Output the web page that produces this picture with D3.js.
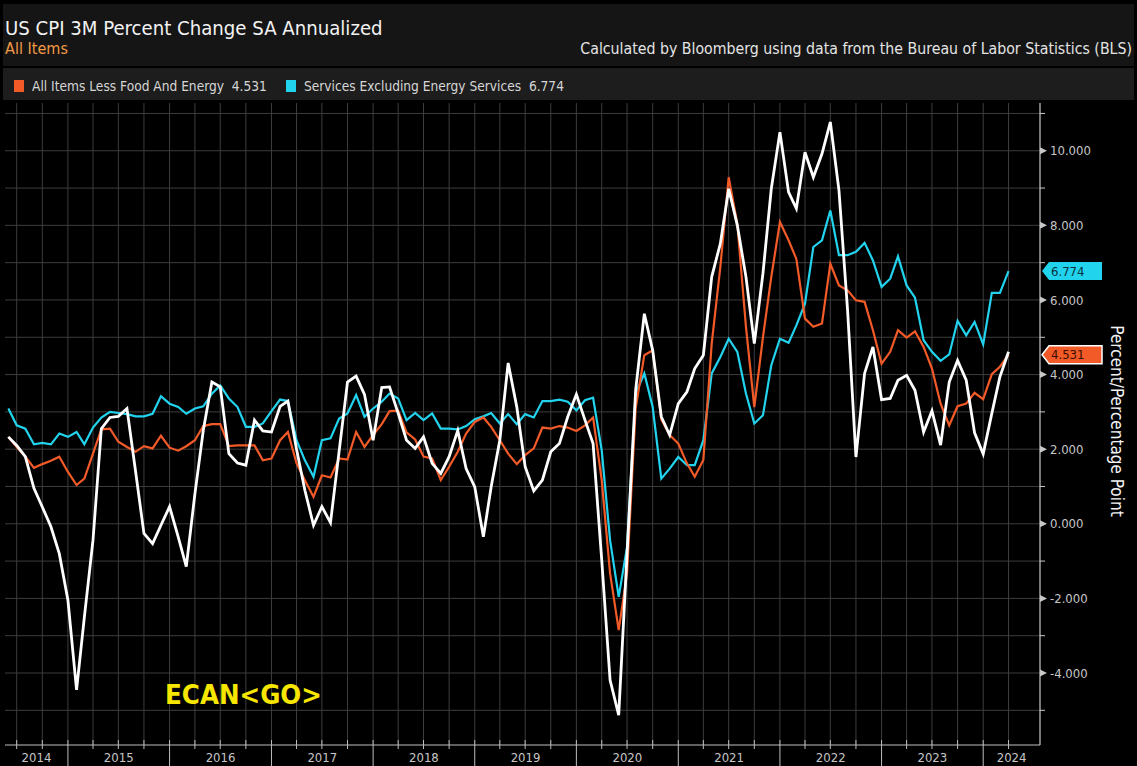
<!DOCTYPE html>
<html>
<head>
<meta charset="utf-8">
<script src="https://cdn.jsdelivr.net/npm/d3@7"></script>
<style>
  body { margin: 0; background: #000; }
  svg { display: block; }
  text { font-family: "DejaVu Sans Condensed", "DejaVu Sans", sans-serif; }
</style>
</head>
<body>
<svg id="chart" width="1137" height="766"></svg>
<script>
// monthly readings, first one is May 2014, plotted at month end
const firstMonth = new Date(2014, 4, 1);

const allItems = [
  2.33, 2.10, 1.80, 0.95, 0.45, -0.08, -0.80, -2.05,                        // 2014
  -4.45, -2.50, -0.44, 2.55, 2.85, 2.88, 3.09, 1.40, -0.26, -0.53, -0.04, 0.46, // 2015
  -0.35, -1.15, 0.80, 2.50, 3.80, 3.67, 1.88, 1.63, 1.57, 2.78, 2.49, 2.46,  // 2016
  3.15, 3.29, 2.00, 0.90, -0.04, 0.46, 0.03, 1.95, 3.80, 3.96, 3.47, 2.24,   // 2017
  3.65, 3.67, 2.96, 2.24, 2.02, 2.33, 1.62, 1.35, 1.80, 2.50, 1.48, 0.99,    // 2018
  -0.35, 0.99, 2.24, 4.31, 3.13, 1.53, 0.88, 1.17, 1.93, 2.15, 2.87, 3.47,   // 2019
  2.78, 2.15, -0.97, -4.19, -5.13, -0.80, 3.60, 5.63, 4.65, 2.87, 2.38, 3.22, // 2020
  3.54, 4.16, 4.52, 6.62, 7.51, 8.98, 8.00, 6.62, 4.83, 6.71, 8.98, 10.50,   // 2021
  8.89, 8.45, 9.96, 9.29, 9.92, 10.77, 8.94, 5.72, 1.79, 4.03, 4.74, 3.33,   // 2022
  3.36, 3.85, 3.98, 3.58, 2.46, 3.03, 2.11, 3.80, 4.38, 3.85, 2.44, 1.87,    // 2023
  2.96, 3.94, 4.61                                                           // 2024
];

const core = [
  2.33, 2.06, 1.80, 1.50, 1.60, 1.69, 1.80, 1.39,
  1.04, 1.21, 1.88, 2.53, 2.55, 2.20, 2.06, 1.93, 2.08, 2.02, 2.36, 2.04,
  1.96, 2.08, 2.24, 2.62, 2.67, 2.67, 2.08, 2.10, 2.10, 2.10, 1.70, 1.75,
  2.24, 2.46, 1.62, 1.17, 0.72, 1.30, 1.24, 1.75, 1.72, 2.46, 2.06, 2.38,
  2.67, 3.02, 3.03, 2.45, 2.26, 1.80, 1.75, 1.17, 1.53, 1.93, 2.42, 2.73,
  2.85, 2.60, 2.24, 1.88, 1.60, 1.84, 2.02, 2.58, 2.55, 2.62, 2.58, 2.49,
  2.64, 2.85, 1.17, -1.33, -2.85, -1.33, 3.10, 4.52, 4.65, 2.80, 2.38, 2.15,
  1.62, 1.26, 1.71, 4.83, 6.88, 9.29, 8.04, 5.28, 3.13, 5.00, 6.62, 8.09,
  7.60, 7.10, 5.50, 5.28, 5.37, 6.97, 6.39, 6.26, 5.99, 5.95, 5.19, 4.29,
  4.61, 5.19, 4.99, 5.16, 4.74, 4.16, 3.22, 2.64, 3.15, 3.22, 3.51, 3.34,
  4.01, 4.21, 4.531
];

const services = [
  3.09, 2.64, 2.55, 2.13, 2.17, 2.13, 2.42, 2.33,
  2.46, 2.13, 2.58, 2.85, 3.00, 2.97, 2.94, 2.88, 2.88, 2.95, 3.42, 3.22,
  3.13, 2.95, 3.09, 3.15, 3.49, 3.71, 3.36, 3.13, 2.60, 2.60, 2.69, 3.02,
  3.33, 3.29, 2.24, 1.70, 1.26, 2.24, 2.29, 2.82, 2.96, 3.45, 2.87, 3.09,
  3.27, 3.49, 3.36, 2.78, 2.97, 2.78, 2.96, 2.55, 2.55, 2.53, 2.62, 2.80,
  2.88, 2.97, 2.69, 2.94, 2.67, 2.94, 2.85, 3.29, 3.29, 3.33, 3.27, 3.04,
  3.31, 3.38, 1.97, -0.44, -1.96, -0.62, 3.50, 4.03, 3.13, 1.21, 1.48, 1.79,
  1.57, 1.57, 2.24, 4.03, 4.47, 4.96, 4.61, 3.49, 2.69, 2.91, 4.25, 4.96,
  4.85, 5.32, 5.90, 7.42, 7.60, 8.40, 7.20, 7.20, 7.29, 7.53, 7.06, 6.35,
  6.57, 7.17, 6.39, 6.06, 4.92, 4.61, 4.37, 4.54, 5.44, 5.05, 5.41, 4.81,
  6.19, 6.19, 6.774
];

const yTicks = [-4, -2, 0, 2, 4, 6, 8, 10];
const yMinor = [-5, -3, -1, 1, 3, 5, 7, 9, 11];
const years = d3.range(2014, 2025);

const orange = "#f25a28", cyan = "#22d3ee";

const svg = d3.select("#chart");
const L = 5, R = 1040, T = 103, B = 745;

const x = d3.scaleTime()
  .domain([new Date(2014, 4, 20), new Date(2024, 6, 23)])
  .range([L, R]);
const y = d3.scaleLinear().domain([-5.93, 11.28]).range([B, T]);

const dates = allItems.map((d, i) => d3.timeMonth.offset(firstMonth, i + 1));

function fitWidth(sel, w) {
  const cur = sel.node().getComputedTextLength();
  sel.attr("font-size", parseFloat(sel.attr("font-size")) * w / cur);
}

// header panels
svg.append("rect").attr("x", 3).attr("y", 4).attr("width", 1131).attr("height", 62).attr("fill", "#151515");
svg.append("rect").attr("x", 3).attr("y", 68).attr("width", 1131).attr("height", 32).attr("fill", "#1d1d1d");

const title = svg.append("text").attr("x", 5).attr("y", 35)
  .attr("font-size", 20).attr("fill", "#f2f2f2")
  .text("US CPI 3M Percent Change SA Annualized");
fitWidth(title, 378);

const sub = svg.append("text").attr("x", 5).attr("y", 54)
  .attr("font-size", 15).attr("fill", "#f29a46").text("All Items");
fitWidth(sub, 63);

const src = svg.append("text").attr("x", 1132).attr("y", 54).attr("text-anchor", "end")
  .attr("font-size", 14).attr("fill", "#e4e4e4")
  .text("Calculated by Bloomberg using data from the Bureau of Labor Statistics (BLS)");
fitWidth(src, 552);

// legend
const legend = [
  { name: "All Items Less Food And Energy", value: "4.531", color: orange, x: 14, w: 235 },
  { name: "Services Excluding Energy Services", value: "6.774", color: cyan, x: 286, w: 260 }
];
legend.forEach(d => {
  svg.append("rect").attr("x", d.x).attr("y", 80).attr("width", 10).attr("height", 12).attr("fill", d.color);
  const t = svg.append("text").attr("x", d.x + 18).attr("y", 91)
    .attr("font-size", 13.5).attr("fill", "#d6d6d6").attr("xml:space", "preserve")
    .text(d.name + "  " + d.value);
  fitWidth(t, d.w);
});

// grid
const plot = svg.append("g");
const quarters = d3.timeMonth.every(3).range(x.domain()[0], x.domain()[1])
  .filter(d => x(d) < R - 10);
plot.selectAll(".vgrid").data(quarters).join("line")
  .attr("x1", d => x(d)).attr("x2", d => x(d)).attr("y1", T).attr("y2", B)
  .attr("stroke", "#3d3d3d").attr("stroke-width", 1);
plot.selectAll(".hgrid").data(yTicks.concat(yMinor)).join("line")
  .attr("x1", L).attr("x2", R).attr("y1", d => y(d)).attr("y2", d => y(d))
  .attr("stroke", "#3d3d3d").attr("stroke-width", 1);

// ECAN<GO>
const ecan = svg.append("text").attr("x", 165).attr("y", 704)
  .attr("font-family", "'Liberation Sans', Arial, sans-serif").attr("font-weight", "bold")
  .attr("font-size", 28).attr("fill", "#f7e600").text("ECAN<GO>");
fitWidth(ecan, 157);

// lines
svg.append("clipPath").attr("id", "clip").append("rect")
  .attr("x", L).attr("y", T).attr("width", R - L).attr("height", B - T);
const line = d3.line().x((d, i) => x(dates[i])).y(d => y(d));
const series = [
  { values: services, color: cyan, width: 2.2 },
  { values: core, color: orange, width: 2.2 },
  { values: allItems, color: "#ffffff", width: 2.8 }
];
svg.append("g").attr("clip-path", "url(#clip)")
  .selectAll("path").data(series).join("path")
  .attr("d", d => line(d.values))
  .attr("fill", "none").attr("stroke", d => d.color)
  .attr("stroke-width", d => d.width).attr("stroke-linejoin", "miter");

// bottom axis
svg.append("line").attr("x1", L).attr("x2", R).attr("y1", B).attr("y2", B)
  .attr("stroke", "#bdbdbd").attr("stroke-width", 1.2);
svg.selectAll(".qtick").data(quarters.filter(d => d.getMonth() !== 0)).join("line")
  .attr("x1", d => x(d)).attr("x2", d => x(d)).attr("y1", B - 5).attr("y2", B + 4)
  .attr("stroke", "#bdbdbd");
const yearStarts = years.map(yr => new Date(yr, 0, 1)).filter(d => d > x.domain()[0]);
svg.selectAll(".ysep").data(yearStarts).join("line")
  .attr("x1", d => x(d)).attr("x2", d => x(d)).attr("y1", B - 5).attr("y2", 766)
  .attr("stroke", "#bdbdbd");
svg.selectAll(".ylab").data(years).join("text")
  .attr("x", yr => {
    const a = Math.max(x(new Date(yr, 0, 1)), L);
    const b = Math.min(x(new Date(yr + 1, 0, 1)), R);
    return (a + b) / 2;
  })
  .attr("y", 762).attr("text-anchor", "middle")
  .attr("font-size", 13).attr("fill", "#c6c6c6")
  .text(yr => yr);

// right axis
svg.append("line").attr("x1", R).attr("x2", R).attr("y1", T).attr("y2", B)
  .attr("stroke", "#c8c8c8").attr("stroke-width", 1.2);
const yAxis = svg.append("g").attr("transform", `translate(${R},0)`)
  .call(d3.axisRight(y).tickValues(yTicks).tickSize(0).tickPadding(10)
    .tickFormat(d => d3.format(".3f")(d).replace("\u2212", "-")));
yAxis.select(".domain").remove();
yAxis.selectAll("text").attr("font-size", 13).attr("fill", "#c6c6c6")
  .attr("font-family", "'DejaVu Sans Condensed', 'DejaVu Sans', sans-serif");
svg.selectAll(".tri").data(yTicks).join("path")
  .attr("d", d => `M${R},${y(d) - 3.5}L${R + 7},${y(d)}L${R},${y(d) + 3.5}Z`)
  .attr("fill", "#c8c8c8");
svg.selectAll(".minor").data(yMinor).join("line")
  .attr("x1", R).attr("x2", R + 5).attr("y1", d => y(d)).attr("y2", d => y(d))
  .attr("stroke", "#c8c8c8");

svg.append("text")
  .attr("transform", `translate(1111,${(T + B) / 2 - 3}) rotate(90)`)
  .attr("text-anchor", "middle").attr("font-size", 17)
  .attr("font-family", "'Liberation Sans', Arial, sans-serif")
  .attr("fill", "#f2f2f2").text("Percent/Percentage Point");

// last value tags
const tags = [
  { v: services[services.length - 1], fill: cyan, text: "#06323c", stroke: "none" },
  { v: core[core.length - 1], fill: orange, text: "#3a0e00", stroke: "#ffffff" }
];
tags.forEach(t => {
  const yc = y(t.v);
  svg.append("path")
    .attr("d", `M${R + 2},${yc}L${R + 9},${yc - 9}L${R + 62},${yc - 9}L${R + 62},${yc + 9}L${R + 9},${yc + 9}Z`)
    .attr("fill", t.fill).attr("stroke", t.stroke).attr("stroke-width", 1.5);
  svg.append("text").attr("x", R + 11).attr("y", yc + 4.5)
    .attr("font-size", 13).attr("fill", t.text).text(d3.format(".3f")(t.v));
});
</script>
</body>
</html>
